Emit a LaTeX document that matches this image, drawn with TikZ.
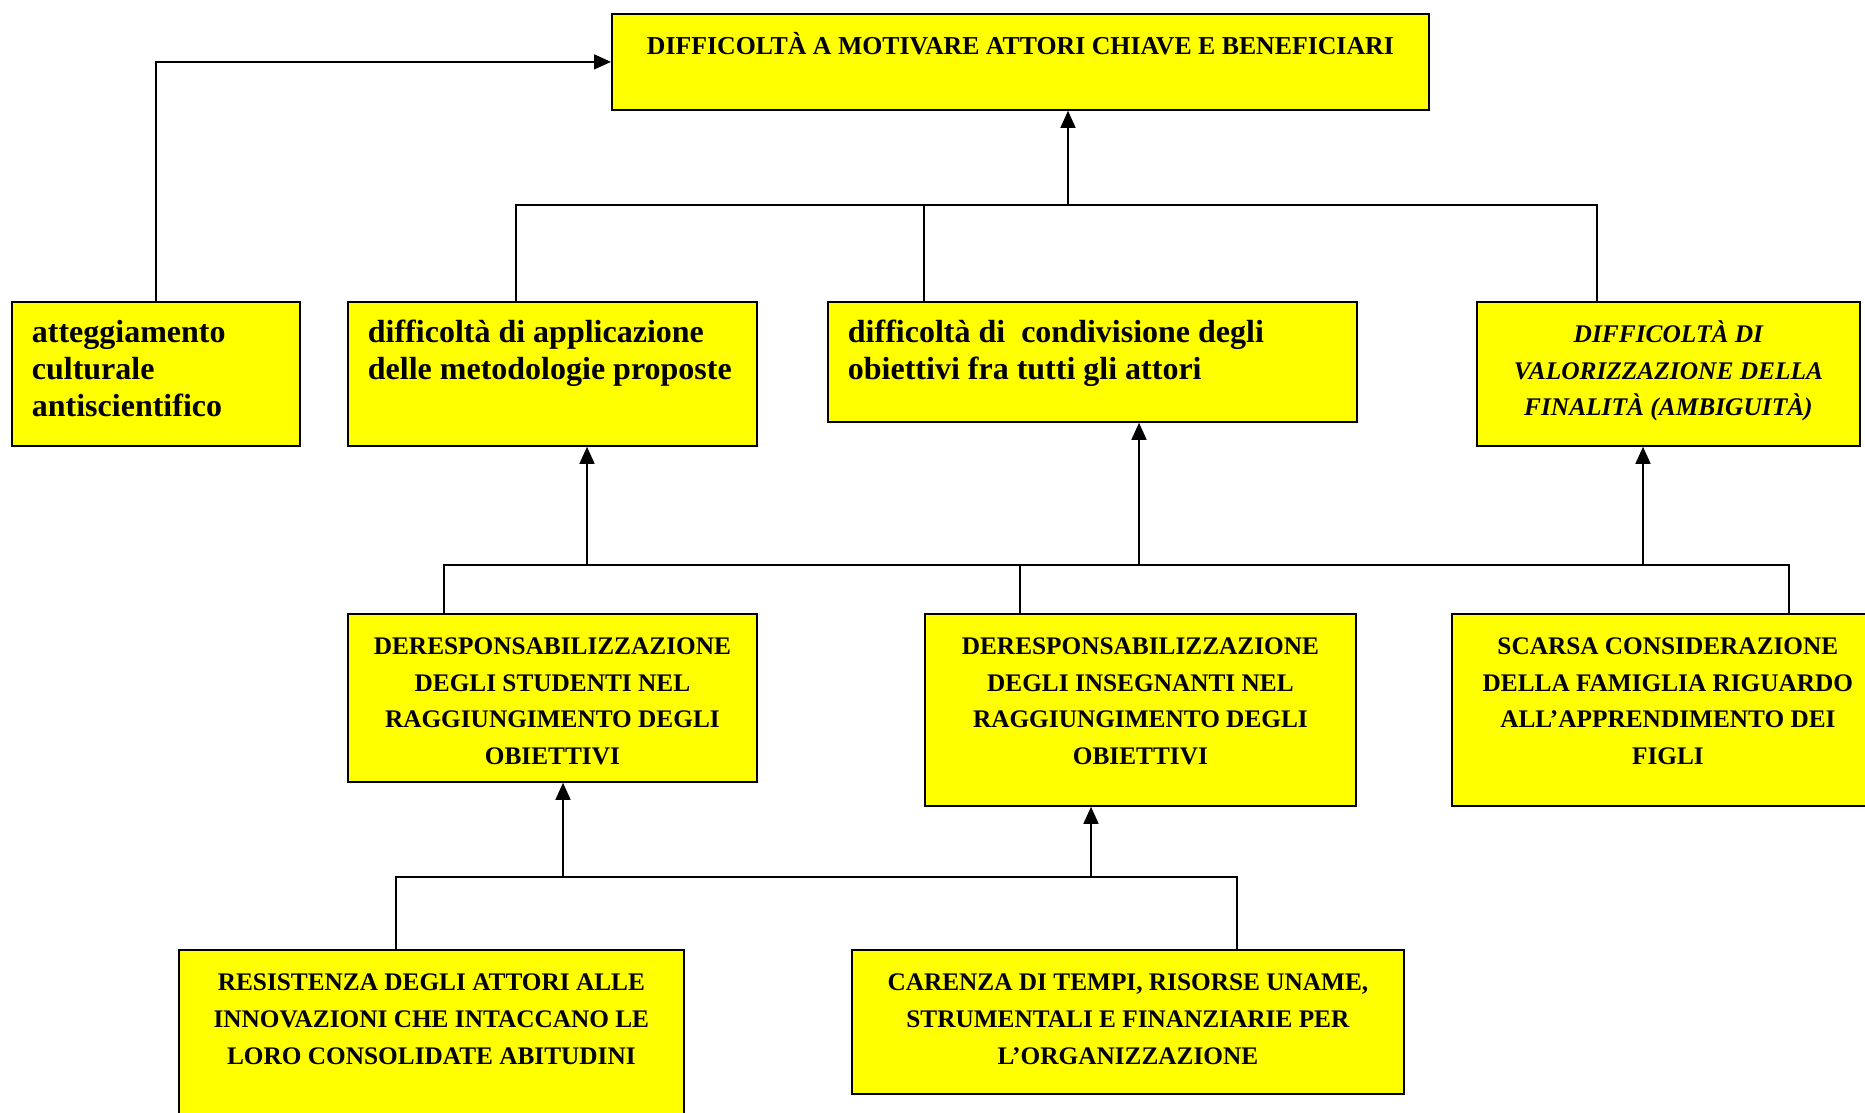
\documentclass[tikz,border=0pt]{standalone}
\usepackage{fontspec}
\setmainfont{Liberation Serif}
\usetikzlibrary{arrows.meta}
\definecolor{boxyellow}{RGB}{255,255,0}
\newcommand\lowf{\fontsize{32}{37}\selectfont\bfseries}
\newcommand\capf{\fontsize{25.3}{36.7}\selectfont\bfseries}
\newcommand\titf{\fontsize{25.8}{36.7}\selectfont\bfseries}
\newcommand\itf{\fontsize{25.4}{36.7}\selectfont\bfseries\itshape}
\newcommand\tbox[4]{\parbox[c][#2][t]{#1}{\vspace*{15pt}#3\strut #4}}
\newcommand\lft{\raggedright\leftskip=20pt\relax}
\begin{document}
\begin{tikzpicture}[x=1pt,y=-1pt,
  box/.style={draw=black, fill=boxyellow, line width=1.8pt, inner sep=0pt, anchor=north west},
  conn/.style={line width=1.4pt},
  arr/.style={line width=1.4pt, -{Triangle[length=17pt,width=15pt]}}]
\useasboundingbox (0,0) rectangle (1865,1113);
\clip (0,0) rectangle (1865,1113);
\fill[white] (0,0) rectangle (1865,1113);

% boxes
\node[box] (top) at (611,13) {\tbox{817pt}{96pt}{\centering\titf}{DIFFICOLTÀ A MOTIVARE ATTORI CHIAVE E BENEFICIARI}};
\node[box] (att) at (11,301) {\tbox{288pt}{144pt}{\lft\lowf}{atteggiamento\\culturale\\antiscientifico}};
\node[box] (app) at (347,301) {\tbox{409pt}{144pt}{\lft\lowf}{difficoltà di applicazione\\delle metodologie proposte}};
\node[box] (cond) at (827,301) {\tbox{529pt}{120pt}{\lft\lowf}{difficoltà di\ \ condivisione degli\\obiettivi fra tutti gli attori}};
\node[box] (val) at (1476,301) {\tbox{383pt}{144pt}{\centering\itf}{DIFFICOLTÀ DI\\VALORIZZAZIONE DELLA\\FINALITÀ (AMBIGUITÀ)}};
\node[box] (dstud) at (347,613) {\tbox{409pt}{168pt}{\centering\capf}{DERESPONSABILIZZAZIONE\\DEGLI STUDENTI NEL\\RAGGIUNGIMENTO DEGLI\\OBIETTIVI}};
\node[box] (dins) at (924,613) {\tbox{431pt}{192pt}{\centering\capf}{DERESPONSABILIZZAZIONE\\DEGLI INSEGNANTI NEL\\RAGGIUNGIMENTO DEGLI\\OBIETTIVI}};
\node[box] (scarsa) at (1451,613) {\tbox{432pt}{192pt}{\centering\capf}{SCARSA CONSIDERAZIONE\\DELLA FAMIGLIA RIGUARDO\\ALL’APPRENDIMENTO DEI\\FIGLI}};
\node[box] (resist) at (178,949) {\tbox{505pt}{250pt}{\centering\capf}{RESISTENZA DEGLI ATTORI ALLE\\INNOVAZIONI CHE INTACCANO LE\\LORO CONSOLIDATE ABITUDINI}};
\node[box] (car) at (851,949) {\tbox{552pt}{144pt}{\centering\capf}{CARENZA DI TEMPI, RISORSE UNAME,\\STRUMENTALI E FINANZIARIE PER\\L’ORGANIZZAZIONE}};

% level 1 connectors
\draw[arr] (att.north) |- (top.west);
\coordinate (j1) at (1068,205);
\coordinate (a1) at ([xshift=-36.5pt]app.north);
\coordinate (b1) at ([xshift=-168.5pt]cond.north);
\coordinate (c1) at ([xshift=-71.5pt]val.north);
\draw[conn] (a1) |- (j1) -| (c1);
\draw[conn] (b1) -- (b1 |- j1);
\draw[arr] (j1) -- (j1 |- top.south);

% level 2 connectors
\coordinate (a2) at ([xshift=-108.5pt]dstud.north);
\coordinate (b2) at ([xshift=-120.5pt]dins.north);
\coordinate (c2) at ([xshift=121pt]scarsa.north);
\coordinate (j2a) at (587,565);
\coordinate (j2b) at (1139,565);
\coordinate (j2c) at (1643,565);
\draw[conn] (a2) |- (j2a) -- (j2b) -| (c2);
\draw[conn] (b2) -- (b2 |- j2a);
\draw[arr] (j2a) -- (j2a |- app.south);
\draw[arr] (j2b) -- (j2b |- cond.south);
\draw[arr] (j2c) -- (j2c |- val.south);

% level 3 connectors
\coordinate (a3) at ([xshift=-35.5pt]resist.north);
\coordinate (b3) at ([xshift=109pt]car.north);
\coordinate (j3a) at (563,877);
\coordinate (j3b) at (1091,877);
\draw[conn] (a3) |- (j3a) -- (j3b) -| (b3);
\draw[arr] (j3a) -- (j3a |- dstud.south);
\draw[arr] (j3b) -- (j3b |- dins.south);
\end{tikzpicture}
\end{document}
